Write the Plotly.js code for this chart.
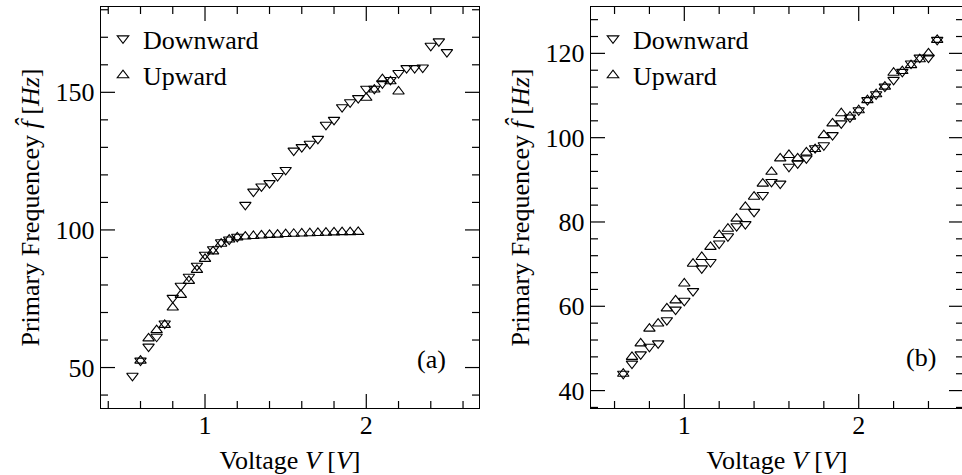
<!DOCTYPE html>
<html>
<head>
<meta charset="utf-8">
<script src="https://cdn.plot.ly/plotly-3.0.1.min.js"></script>
<style>
  html, body { margin: 0; padding: 0; background: #fff; overflow: hidden; }
  #chart { width: 964px; height: 475px; }
</style>
</head>
<body>
<div id="chart"></div>
<script>
// Panel (a): frequency response, sweeping voltage down and up
const voltDownA = [2.50, 2.45, 2.40, 2.35, 2.30, 2.25, 2.20, 2.15, 2.10, 2.05, 2.00, 1.95, 1.90,
                   1.85, 1.80, 1.75, 1.70, 1.65, 1.60, 1.55, 1.50, 1.45, 1.40, 1.35, 1.30, 1.25,
                   1.20, 1.15, 1.10, 1.05, 1.00, 0.95, 0.90, 0.85, 0.80, 0.75, 0.70, 0.65, 0.60, 0.55];
const freqDownA = [164.6, 168.5, 166.9, 159.0, 158.8, 158.8, 157.0, 154.5, 153.3, 151.3, 151.3, 147.9, 146.4,
                   144.6, 140.0, 138.2, 133.1, 131.3, 130.1, 128.8, 121.8, 119.6, 117.0, 115.8, 113.9, 109.1,
                   97.5, 96.5, 95.5, 93.0, 91.0, 87.0, 83.0, 79.7, 75.3, 66.0, 61.2, 57.6, 52.5, 47.0];
const voltUpA = [0.60, 0.65, 0.70, 0.75, 0.80, 0.85, 0.90, 0.95, 1.00, 1.05, 1.10, 1.15, 1.20, 1.25,
                 1.30, 1.35, 1.40, 1.45, 1.50, 1.55, 1.60, 1.65, 1.70, 1.75, 1.80, 1.85, 1.90, 1.95,
                 2.00, 2.05, 2.10, 2.15, 2.20];
const freqUpA = [52.5, 60.6, 63.6, 65.5, 71.8, 76.4, 81.5, 85.5, 89.5, 92.2, 95.0, 96.5, 97.3, 97.6,
                 97.8, 98.0, 98.2, 98.3, 98.5, 98.6, 98.7, 98.8, 98.9, 99.0, 99.1, 99.2, 99.2, 99.3,
                 148.0, 151.0, 154.8, 154.0, 150.3];

// Panel (b)
const voltB = [0.65, 0.70, 0.75, 0.80, 0.85, 0.90, 0.95, 1.00, 1.05, 1.10, 1.15, 1.20, 1.25,
               1.30, 1.35, 1.40, 1.45, 1.50, 1.55, 1.60, 1.65, 1.70, 1.75, 1.80, 1.85, 1.90,
               1.95, 2.00, 2.05, 2.10, 2.15, 2.20, 2.25, 2.30, 2.35, 2.40, 2.45];
const freqDownB = [44.0, 46.4, 48.6, 50.4, 51.2, 56.7, 59.2, 61.3, 63.6, 69.0, 70.5, 74.9, 76.6,
                   79.0, 79.5, 82.4, 86.4, 89.5, 89.1, 93.1, 93.9, 95.1, 97.5, 98.2, 100.6, 103.4,
                   104.8, 106.5, 108.9, 110.3, 112.1, 113.7, 115.6, 117.6, 119.0, 119.0, 123.2];
const freqUpB = [44.0, 48.0, 51.2, 54.7, 55.9, 59.5, 61.4, 65.4, 70.1, 71.7, 74.1, 76.9, 78.4,
                 80.8, 83.6, 86.0, 89.1, 91.9, 95.1, 95.9, 95.1, 96.5, 97.3, 100.6, 103.4, 105.8,
                 105.0, 106.5, 108.9, 110.3, 112.1, 115.4, 115.8, 117.2, 118.6, 120.0, 123.2];

const seriesNames = ['Downward', 'Upward'];
const panelLabels = ['(a)', '(b)'];

const FONT = 'Liberation Serif';
const W = 964, H = 475;
const yDom = [1 - 408 / H, 1 - 7 / H];

// Axis geometry: domain, range, major and minor tick steps
const axA = {
  x: { domain: [101 / W, 479 / W], range: [0.355, 2.699], major: 1, minor: 0.2 },
  y: { domain: yDom, range: [35.3, 181.0], major: 50, minor: 10 }
};
const axB = {
  x: { domain: [591 / W, 963 / W], range: [0.465, 2.598], major: 1, minor: 0.2 },
  y: { domain: yDom, range: [35.87, 131.0], major: 20, minor: 4 }
};

function marker(symbol) {
  return { symbol: symbol, size: 10, color: 'black', line: { color: 'black', width: 1.1 } };
}

// Positions of the tick grid inside an axis range
function tickValues(range, step, skipStep) {
  const vals = [];
  for (let k = Math.ceil(range[0] / step - 1e-9); k * step <= range[1] + 1e-9; k++) {
    const v = Math.round(k * step * 1e6) / 1e6;
    if (skipStep && Math.abs(v / skipStep - Math.round(v / skipStep)) < 1e-6) continue;
    vals.push(v);
  }
  return vals;
}

// Inward tick marks on all four sides of a panel, drawn as short line markers
function tickTraces(ax, xid, yid) {
  const xPerPx = (ax.x.range[1] - ax.x.range[0]) / ((ax.x.domain[1] - ax.x.domain[0]) * W);
  const yPerPx = (ax.y.range[1] - ax.y.range[0]) / ((ax.y.domain[1] - ax.y.domain[0]) * H);
  const out = [];
  [[ax.x.major, null, 14], [ax.x.minor, ax.x.major, 7]].forEach(function (spec) {
    const vals = tickValues(ax.x.range, spec[0], spec[1]);
    const half = spec[2] / 2;
    const yb = ax.y.range[0] + half * yPerPx, yt = ax.y.range[1] - half * yPerPx;
    out.push({
      x: vals.concat(vals), y: vals.map(function () { return yb; }).concat(vals.map(function () { return yt; })),
      mode: 'markers', type: 'scatter', xaxis: xid, yaxis: yid, showlegend: false, hoverinfo: 'skip', cliponaxis: false,
      marker: { symbol: 'line-ns-open', size: spec[2] / 1.4, color: 'black', line: { color: 'black', width: 1.2 } }
    });
  });
  [[ax.y.major, null, 14], [ax.y.minor, ax.y.major, 7]].forEach(function (spec) {
    const vals = tickValues(ax.y.range, spec[0], spec[1]);
    const half = spec[2] / 2;
    const xl = ax.x.range[0] + half * xPerPx, xr = ax.x.range[1] - half * xPerPx;
    out.push({
      y: vals.concat(vals), x: vals.map(function () { return xl; }).concat(vals.map(function () { return xr; })),
      mode: 'markers', type: 'scatter', xaxis: xid, yaxis: yid, showlegend: false, hoverinfo: 'skip', cliponaxis: false,
      marker: { symbol: 'line-ew-open', size: spec[2] / 1.4, color: 'black', line: { color: 'black', width: 1.2 } }
    });
  });
  return out;
}

const traces = [
  { x: voltDownA, y: freqDownA, name: seriesNames[0], mode: 'markers', type: 'scatter',
    marker: marker('triangle-down-open'), xaxis: 'x', yaxis: 'y', legend: 'legend' },
  { x: voltUpA, y: freqUpA, name: seriesNames[1], mode: 'markers', type: 'scatter',
    marker: marker('triangle-up-open'), xaxis: 'x', yaxis: 'y', legend: 'legend' },
  { x: voltB, y: freqDownB, name: seriesNames[0], mode: 'markers', type: 'scatter',
    marker: marker('triangle-down-open'), xaxis: 'x2', yaxis: 'y2', legend: 'legend2' },
  { x: voltB, y: freqUpB, name: seriesNames[1], mode: 'markers', type: 'scatter',
    marker: marker('triangle-up-open'), xaxis: 'x2', yaxis: 'y2', legend: 'legend2' }
].concat(tickTraces(axA, 'x', 'y'), tickTraces(axB, 'x2', 'y2'));

function axisBase(spec, extra) {
  return Object.assign({
    domain: spec.domain, range: spec.range, dtick: spec.major, tick0: 0,
    showline: true, linecolor: 'black', linewidth: 1.3, mirror: true,
    ticks: '', showgrid: false, zeroline: false,
    tickfont: { family: FONT, size: 26, color: 'black' }
  }, extra);
}

function xTitle() { return { text: 'Voltage <i>V</i> [<i>V</i>]', font: { family: FONT, size: 26, color: 'black' } }; }
function yTitle() { return { text: 'Primary Frequencey <i>f̂</i> [<i>Hz</i>]', font: { family: FONT, size: 26, color: 'black' } }; }

const legendBase = {
  xref: 'paper', yref: 'paper', xanchor: 'left', yanchor: 'top',
  bgcolor: 'rgba(0,0,0,0)', borderwidth: 0,
  font: { family: FONT, size: 26, color: 'black' }
};

const layout = {
  width: W, height: H,
  margin: { l: 0, r: 0, t: 0, b: 0 },
  paper_bgcolor: 'white', plot_bgcolor: 'white',
  font: { family: FONT, size: 26, color: 'black' },
  showlegend: true,
  xaxis: axisBase(axA.x, { anchor: 'y', title: xTitle(), ticklabelstandoff: -7 }),
  yaxis: axisBase(axA.y, { anchor: 'x', title: yTitle() }),
  xaxis2: axisBase(axB.x, { anchor: 'y2', title: xTitle(), ticklabelstandoff: -7 }),
  yaxis2: axisBase(axB.y, { anchor: 'x2', title: yTitle() }),
  legend: Object.assign({}, legendBase, { x: 103 / W, y: 1 - 15 / H }),
  legend2: Object.assign({}, legendBase, { x: 593 / W, y: 1 - 15 / H }),
  annotations: [
    { xref: 'paper', yref: 'paper', x: 431 / W, y: 1 - 359 / H, text: panelLabels[0],
      showarrow: false, xanchor: 'center', yanchor: 'middle',
      font: { family: FONT, size: 26, color: 'black' } },
    { xref: 'paper', yref: 'paper', x: 921 / W, y: 1 - 357 / H, text: panelLabels[1],
      showarrow: false, xanchor: 'center', yanchor: 'middle',
      font: { family: FONT, size: 26, color: 'black' } }
  ]
};

Plotly.newPlot('chart', traces, layout, { displayModeBar: false, staticPlot: true });
</script>
</body>
</html>
